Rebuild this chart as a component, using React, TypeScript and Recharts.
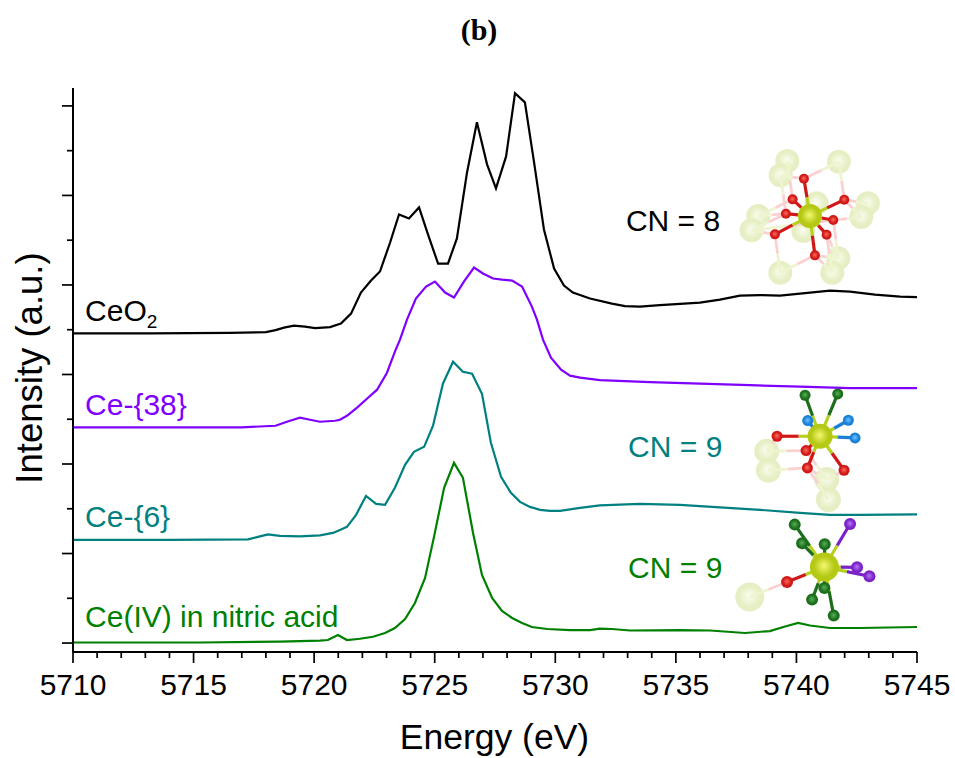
import React from "react";
import { LineChart, Line, XAxis, YAxis, ReferenceDot } from "recharts";

const ceo2Energy = [5710,5713.2,5716.5,5718,5718.4,5718.75,5719.16,5719.62,5720.04,5720.66,5721.11,5721.53,5721.94,5722.36,5722.73,5723.15,5723.52,5723.93,5724.35,5724.72,5725.14,5725.55,5725.92,5726.34,5726.75,5727.17,5727.54,5727.96,5728.33,5728.74,5729.12,5729.53,5729.95,5730.36,5730.73,5731.44,5732.35,5732.89,5733.51,5734.34,5736,5736.83,5737.66,5738.49,5739.32,5740.15,5741.39,5742.22,5743.26,5744.3,5745];
const ceo2Intensity = [3.46,3.46,3.465,3.473,3.496,3.523,3.546,3.535,3.518,3.529,3.568,3.68,3.915,4.049,4.15,4.474,4.787,4.743,4.866,4.564,4.239,4.239,4.519,5.257,5.817,5.347,5.078,5.436,6.141,6.04,5.369,4.62,4.183,3.993,3.915,3.848,3.792,3.764,3.758,3.775,3.803,3.837,3.881,3.887,3.881,3.904,3.937,3.926,3.893,3.87,3.865];

const ce38Energy = [5710,5714,5717,5718.4,5718.87,5719.41,5719.83,5720.24,5720.87,5721.07,5721.36,5721.78,5722.19,5722.61,5723.02,5723.35,5723.56,5723.85,5724.22,5724.64,5725.01,5725.43,5725.8,5726.21,5726.63,5727.0,5727.42,5727.79,5728.21,5728.62,5729.03,5729.24,5729.49,5729.82,5730.24,5730.61,5731.03,5731.85,5733.93,5736,5738.07,5740.15,5742.22,5745];
const ce38Intensity = [2.41,2.41,2.41,2.427,2.472,2.517,2.494,2.472,2.483,2.494,2.539,2.629,2.729,2.83,3.02,3.255,3.389,3.613,3.848,3.982,4.038,3.915,3.859,4.038,4.195,4.128,4.072,4.06,4.049,3.982,3.758,3.613,3.389,3.188,3.054,2.987,2.964,2.936,2.914,2.897,2.88,2.864,2.847,2.847];

const ce6Energy = [5710,5714,5717.26,5717.67,5718.09,5718.58,5719.41,5720.24,5720.78,5721.07,5721.36,5721.74,5722.15,5722.57,5722.94,5723.35,5723.77,5724.14,5724.56,5724.93,5725.34,5725.76,5726.17,5726.55,5726.96,5727.33,5727.75,5728.16,5728.54,5728.95,5729.37,5729.78,5730.2,5731.03,5731.85,5733.51,5735.17,5736.83,5738.49,5740.15,5741.39,5742.64,5745];
const ce6Intensity = [1.152,1.152,1.158,1.186,1.214,1.197,1.191,1.202,1.23,1.264,1.298,1.432,1.644,1.555,1.544,1.734,1.991,2.136,2.192,2.427,2.897,3.143,3.031,3.009,2.785,2.237,1.857,1.678,1.577,1.521,1.488,1.477,1.477,1.51,1.538,1.555,1.544,1.516,1.488,1.454,1.432,1.432,1.437];

const nitricEnergy = [5710,5715.27,5718.58,5720.24,5720.57,5720.99,5721.36,5721.9,5722.44,5722.94,5723.35,5723.77,5724.18,5724.6,5724.97,5725.39,5725.8,5726.17,5726.59,5726.96,5727.38,5727.79,5728.21,5728.62,5729.03,5729.66,5730.61,5731.44,5731.85,5732.35,5733.1,5735.17,5736.42,5737.87,5738.9,5739.53,5740.07,5740.56,5741.39,5742.64,5745];
const nitricIntensity = [0.006,0.006,0.017,0.028,0.034,0.089,0.034,0.048,0.07,0.112,0.168,0.268,0.447,0.727,1.186,1.734,2.013,1.846,1.23,0.761,0.503,0.358,0.28,0.224,0.179,0.157,0.145,0.145,0.162,0.157,0.14,0.145,0.14,0.112,0.134,0.185,0.224,0.196,0.168,0.168,0.179];

const xTicks = [5710,5711,5712,5713,5714,5715,5716,5717,5718,5719,5720,5721,5722,5723,5724,5725,5726,5727,5728,5729,5730,5731,5732,5733,5734,5735,5736,5737,5738,5739,5740,5741,5742,5743,5744,5745];
const yTicks = [0,0.5,1,1.5,2,2.5,3,3.5,4,4.5,5,5.5,6];

const toRows = (xs: number[], ys: number[]) => xs.map((x, i) => ({ x, y: ys[i] }));

const series = [
  { name: "CeO2", color: "#000000", rows: toRows(ceo2Energy, ceo2Intensity) },
  { name: "Ce-{38}", color: "#7f00ff", rows: toRows(ce38Energy, ce38Intensity) },
  { name: "Ce-{6}", color: "#008080", rows: toRows(ce6Energy, ce6Intensity) },
  { name: "Ce(IV) in nitric acid", color: "#008000", rows: toRows(nitricEnergy, nitricIntensity) },
];

const FONT = "'Liberation Sans', Arial, sans-serif";

const labels = [
  { x: 5710.5, y: 3.6, color: "#000000", text: "CeO", sub: "2" },
  { x: 5710.5, y: 2.55, color: "#7f00ff", text: "Ce-{38}" },
  { x: 5710.5, y: 1.3, color: "#008080", text: "Ce-{6}" },
  { x: 5710.5, y: 0.18, color: "#008000", text: "Ce(IV) in nitric acid" },
  { x: 5732.93, y: 4.6, color: "#000000", text: "CN = 8" },
  { x: 5733.02, y: 2.08, color: "#008080", text: "CN = 9" },
  { x: 5733.02, y: 0.73, color: "#008000", text: "CN = 9" },
];

type Atom = [number, number];
type Mol = {
  id: string;
  ex: number;
  iy: number;
  ce: Atom;
  ceR: number;
  pale: Atom[];
  paleR: number;
  paleBonds: [Atom, Atom][];
  groups: { color: string; hi: string; r: number; atoms: Atom[] }[];
};

const RED = { color: "#d01818", hi: "#ff6a5a" };
const GREEN = { color: "#1c6e1c", hi: "#58b058" };
const BLUE = { color: "#1a7fd8", hi: "#6cc4ff" };
const PURP = { color: "#7a22c8", hi: "#b878f0" };

const o1: Atom[] = [[252,148],[218,210],[198,253],[165,315],[373,211],[340,272],[320,316],[285,378]];
const p1: Atom[] = [[202,95],[290,222],[444,222],[115,260],[250,305],[355,387],[182,138],[357,97],[95,303],[424,263],[181,430],[337,430]];
const o2: Atom[] = [[141,170],[228,213],[232,265],[342,272]];
const p2: Atom[] = [[110,215],[290,300],[115,272],[295,360]];

const molecules: Mol[] = [
  {
    id: "m1", ex: 5740.56, iy: 4.77, ce: [270,260], ceR: 12, pale: p1, paleR: 12,
    paleBonds: [
      [o1[0],p1[6]],[o1[0],p1[7]],[o1[1],p1[0]],[o1[1],p1[3]],[o1[2],p1[6]],[o1[2],p1[3]],[o1[2],p1[8]],
      [o1[3],p1[8]],[o1[3],p1[10]],[o1[4],p1[7]],[o1[4],p1[2]],[o1[4],p1[9]],[o1[5],p1[9]],[o1[5],p1[8]],
      [o1[5],p1[5]],[o1[6],p1[5]],[o1[6],p1[11]],[o1[7],p1[5]],[o1[7],p1[10]],[o1[7],p1[11]],
    ],
    groups: [{ ...RED, r: 5, atoms: o1 }],
  },
  {
    id: "m2", ex: 5740.98, iy: 2.31, ce: [270,170], ceR: 12.5, pale: p2, paleR: 12.5,
    paleBonds: [[o2[0],p2[0]],[o2[1],p2[0]],[o2[2],p2[2]],[o2[2],p2[1]],[o2[1],p2[1]],[o2[3],p2[1]],[o2[2],p2[3]]],
    groups: [
      { ...RED, r: 5.5, atoms: o2 },
      { ...GREEN, r: 5.5, atoms: [[225,47],[323,43]] },
      { ...BLUE, r: 5.5, atoms: [[233,123],[355,122],[375,175]] },
    ],
  },
  {
    id: "m3", ex: 5741.16, iy: 0.85, ce: [283,562], ceR: 14.5, pale: [[59,652]], paleR: 14.5,
    paleBonds: [[[171,607],[59,652]]],
    groups: [
      { ...RED, r: 6, atoms: [[171,607]] },
      { ...GREEN, r: 6, atoms: [[194,435],[216,491],[284,494],[283,625],[246,660],[311,708]] },
      { ...PURP, r: 6, atoms: [[360,433],[381,563],[418,590]] },
    ],
  },
];

function Molecule({ cx, cy, m }: { cx: number; cy: number; m: Mol }) {
  const px = (a: Atom) => cx + (a[0] - m.ce[0]) / 3;
  const py = (a: Atom) => cy + (a[1] - m.ce[1]) / 3;
  const mid = (a: Atom, b: Atom): Atom => [(a[0] + b[0]) / 2, (a[1] + b[1]) / 2];
  const seg = (a: Atom, b: Atom, c: string, w: number, k: string) => (
    <line key={k} x1={px(a)} y1={py(a)} x2={px(b)} y2={py(b)} stroke={c} strokeWidth={w} />
  );
  const grad = (id: string, hi: string, c: string) => (
    <radialGradient id={id} cx="50%" cy="50%" r="55%" fx="48%" fy="45%">
      <stop offset="0%" stopColor={hi} />
      <stop offset="65%" stopColor={c} />
      <stop offset="100%" stopColor={c} />
    </radialGradient>
  );
  return (
    <g>
      <defs>
        {grad(m.id + "ce", "#f4f870", "#b4c814")}
        {grad(m.id + "pale", "#fbfdf0", "#e6efc4")}
        {m.groups.map((g, i) => <React.Fragment key={i}>{grad(m.id + "g" + i, g.hi, g.color)}</React.Fragment>)}
      </defs>
      {m.pale.map((a, i) => <circle key={i} cx={px(a)} cy={py(a)} r={m.paleR} fill={`url(#${m.id}pale)`} />)}
      {m.paleBonds.map(([a, b], i) => (
        <g key={i}>
          {seg(a, mid(a, b), "#fbd0d0", 2.8, "r")}
          {seg(mid(a, b), b, "#eef4d0", 2.8, "y")}
        </g>
      ))}
      {m.groups.map((g, gi) =>
        g.atoms.map((a, i) => (
          <g key={gi + "-" + i}>
            {seg(m.ce, mid(m.ce, a), "#b8d020", 3.2, "c")}
            {seg(mid(m.ce, a), a, g.color, 3.2, "o")}
          </g>
        ))
      )}
      {m.groups.map((g, gi) =>
        g.atoms.map((a, i) => <circle key={gi + "-" + i} cx={px(a)} cy={py(a)} r={g.r} fill={`url(#${m.id}g${gi})`} />)
      )}
      <circle cx={cx} cy={cy} r={m.ceR} fill={`url(#${m.id}ce)`} />
    </g>
  );
}

const XTick = (p: any) => {
  const v = p.payload.value;
  const major = v % 5 === 0;
  return (
    <g>
      <line x1={p.x} x2={p.x} y1={p.y} y2={p.y + (major ? 11 : 6)} stroke="#000" strokeWidth={1.7} />
      {major && (
        <text x={p.x} y={p.y + 43} textAnchor="middle" fontFamily={FONT} fontSize={30} fill="#000">{v}</text>
      )}
    </g>
  );
};

const YTick = (p: any) => {
  const major = Number.isInteger(p.payload.value);
  return <line x1={p.x - (major ? 11 : 6)} x2={p.x} y1={p.y} y2={p.y} stroke="#000" strokeWidth={1.7} />;
};

export default function App() {
  return (
    <div style={{ position: "absolute", left: 0, top: 0, width: 955, height: 758, background: "#fff" }}>
      <div style={{ position: "absolute", left: 0, width: 958, top: 12, textAlign: "center", fontFamily: "'Liberation Serif', serif", fontWeight: "bold", fontSize: 30, lineHeight: "36px", color: "#000" }}>(b)</div>
      <LineChart width={955} height={758} margin={{ top: 88, right: 38, bottom: 0, left: 0 }}>
        <XAxis
          type="number"
          dataKey="x"
          domain={[5710, 5745]}
          ticks={xTicks}
          interval={0}
          height={106}
          tickSize={0}
          tickMargin={0}
          tick={XTick}
          axisLine={{ stroke: "#000", strokeWidth: 2 }}
          allowDuplicatedCategory={false}
          label={{ content: () => (
            <text x={494.5} y={749} textAnchor="middle" fontFamily={FONT} fontSize={35.5} fill="#000">Energy (eV)</text>
          ) }}
        />
        <YAxis
          type="number"
          domain={[-0.1, 6.2]}
          ticks={yTicks}
          interval={0}
          width={73}
          tickSize={0}
          tickMargin={0}
          tick={YTick}
          axisLine={{ stroke: "#000", strokeWidth: 2 }}
          label={{ content: () => (
            <text x={42} y={368} transform="rotate(-90 42 368)" textAnchor="middle" fontFamily={FONT} fontSize={36.5} fill="#000">Intensity (a.u.)</text>
          ) }}
        />
        {series.map((s) => (
          <Line key={s.name} name={s.name} data={s.rows} dataKey="y" type="linear" stroke={s.color} strokeWidth={2.2} dot={false} isAnimationActive={false} />
        ))}
        {labels.map((l, i) => (
          <ReferenceDot
            key={i}
            x={l.x}
            y={l.y}
            ifOverflow="visible"
            shape={(p: any) => (
              <text x={p.cx} y={p.cy} fontFamily={FONT} fontSize={30} fill={l.color}>
                {l.text}
                {l.sub && <tspan dy={7} fontSize={19}>{l.sub}</tspan>}
              </text>
            )}
          />
        ))}
        {molecules.map((m) => (
          <ReferenceDot key={m.id} x={m.ex} y={m.iy} ifOverflow="visible" shape={(p: any) => <Molecule cx={p.cx} cy={p.cy} m={m} />} />
        ))}
      </LineChart>
    </div>
  );
}
